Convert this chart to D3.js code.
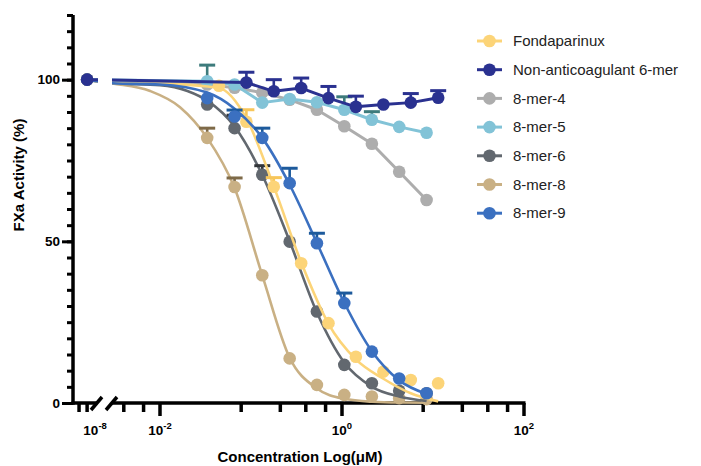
<!DOCTYPE html>
<html>
<head>
<meta charset="utf-8">
<script src="https://cdn.jsdelivr.net/npm/d3@7"></script>
<style>
    body { margin: 0; background: #fff; }
    text { font-family: Arial, "Liberation Sans", Helvetica, sans-serif; }
</style>
</head>
<body>
<div id="chart"></div>
<script>
// dilution series (uM)
const concA = [0.033, 0.066, 0.133, 0.266, 0.53, 1.06, 2.13, 4.25, 8.5];
const concB = [0.0445, 0.089, 0.178, 0.356, 0.71, 1.42, 2.85, 5.7, 11.4];
const controlConc = 1e-8;
const controlValue = 100;

// measured FXa activity (%) and upper error (0 = hidden under the marker)
const fondaY = [98.1, 87.0, 66.9, 43.2, 24.7, 14.3, 9.7, 7.1, 6.1];
const fondaErr = [0, 3.7, 2.8, 0, 0, 0, 0, 0, 0];
const nonAntiY = [99.1, 96.4, 97.4, 94.3, 91.6, 92.3, 92.9, 94.4];
const nonAntiErr = [3.2, 3.6, 3.1, 3.6, 3.3, 0, 2.8, 2.2];
const mer4Y = [98.5, 97.5, 96.0, 93.8, 90.7, 85.6, 80.2, 71.5, 62.8];
const mer5Y = [99.5, 98.5, 92.9, 94.0, 93.0, 90.7, 87.6, 85.4, 83.6];
const mer5Err = [5, 0, 0, 0, 0, 4, 2.5, 0, 0];
const mer6Y = [92.3, 85.0, 70.6, 49.9, 28.3, 11.8, 6.1, 3.8, 3.0];
const mer6Err = [0, 4, 2.8, 0, 0, 0, 0, 0, 0];
const mer8Y = [82.0, 66.8, 39.5, 13.8, 5.6, 2.5, 2.0, 1.5, 1.2];
const mer8Err = [3, 2.8, 0, 0, 0, 0, 0, 0, 0];
const mer9Y = [94.3, 88.6, 82.0, 68.0, 49.4, 30.9, 15.9, 7.6, 3.0];
const mer9Err = [0, 2, 3, 4.6, 3.1, 3.1, 0, 0, 0];

// fitted curves
const fondaFitX = [0.003, 0.012, 0.0445, 0.089, 0.178, 0.356, 0.71, 1.42, 2.85, 5.7, 11.4];
const fondaFitY = [98.9, 98.7, 97.4, 88, 67, 43.5, 24.5, 13.5, 7.5, 3, 0.5];
const mer6FitX = [0.003, 0.01, 0.02, 0.033, 0.066, 0.133, 0.266, 0.53, 1.06, 2.13, 4.25, 8.5];
const mer6FitY = [98.9, 98.3, 96.5, 93.5, 85.5, 70.5, 50, 28, 12.5, 5, 2, 0.6];
const mer8FitX = [0.003, 0.0078, 0.0166, 0.033, 0.066, 0.133, 0.266, 0.53, 1.06, 2.13, 4.25, 8.5];
const mer8FitY = [98.8, 96.5, 91.5, 82, 66.5, 39.5, 14, 4.5, 1.3, 0.4, 0.15, 0.1];
const mer9FitX = [0.003, 0.01, 0.033, 0.066, 0.133, 0.266, 0.53, 1.06, 2.13, 4.25, 8.5];
const mer9FitY = [98.9, 98.5, 96, 91, 82, 67.5, 49.5, 31, 16, 7, 2.8];

const yMajorTicks = [0, 50, 100];
const xMajorTicks = [1e-2, 1e0, 1e2];
const xMajorLabels = ['-2', '0', '2'];
const xMinorTicks = [0.004, 0.0066, 0.078, 0.21, 0.4, 0.66, 7.8, 21, 40, 66];
const breakTicks = [Math.pow(10, -8.2), 1e-8];

var state = {
    width: 701,
    height: 466,
    axisColor: '#000',
    axisWidth: 3.5,
    radius: 6.3
};

// draw order matters: later series sit on top
var series = [
    {name: '8-mer-4', x: concA, y: mer4Y, err: null, color: '#adadad', errColor: '#8a8a8a', fitX: null},
    {name: '8-mer-5', x: concA, y: mer5Y, err: mer5Err, color: '#82c3d7', errColor: '#3d7b7c', fitX: null},
    {name: '8-mer-8', x: concA, y: mer8Y, err: mer8Err, color: '#c9b084', errColor: '#7e6a48', fitX: mer8FitX, fitY: mer8FitY},
    {name: '8-mer-6', x: concA, y: mer6Y, err: mer6Err, color: '#62686f', errColor: '#33363a', fitX: mer6FitX, fitY: mer6FitY},
    {name: 'Fondaparinux', x: concB, y: fondaY, err: fondaErr, color: '#fcd478', errColor: '#f7c65a', fitX: fondaFitX, fitY: fondaFitY},
    {name: '8-mer-9', x: concA, y: mer9Y, err: mer9Err, color: '#3b70c0', errColor: '#1d5a9c', fitX: mer9FitX, fitY: mer9FitY},
    {name: 'Non-anticoagulant 6-mer', x: concB.slice(1), y: nonAntiY, err: nonAntiErr, color: '#2a3190', errColor: '#2a3190', fitX: null}
];
var legendOrder = ['Fondaparinux', 'Non-anticoagulant 6-mer', '8-mer-4', '8-mer-5', '8-mer-6', '8-mer-8', '8-mer-9'];

var y = d3.scaleLinear().domain([0, 120]).range([403, 15]);
var xMain = d3.scaleLog().domain([1e-2, 1e2]).range([160, 524]);
var xBreak = d3.scaleLog().domain([Math.pow(10, -8.35), Math.pow(10, -7.73)]).range([73, 98]);
var mainStart = 112;

function xPos(c){
    return c < 1e-5 ? xBreak(c) : xMain(c);
}

var svg = d3.select('#chart')
    .append('svg')
        .attr('width', state.width)
        .attr('height', state.height)
        .style('background', '#fff');

var defs = svg.append('defs');
defs.append('clipPath').attr('id', 'clipBreak')
    .append('rect').attr('x', 70).attr('y', 0).attr('width', 28).attr('height', 420);
defs.append('clipPath').attr('id', 'clipMain')
    .append('rect').attr('x', mainStart).attr('y', 0).attr('width', 420).attr('height', 420);

drawAxes();
drawSeries();
drawLegend();

function drawAxes(){
    let g = svg.append('g');

    // y axis
    g.append('g')
        .attr('transform', 'translate(73,0)')
        .call(d3.axisLeft(y).tickValues(d3.range(0, 121, 5)).tickSize(6).tickSizeOuter(0).tickFormat(''))
        .call(s => s.select('.domain').remove());
    g.append('g')
        .attr('transform', 'translate(73,0)')
        .call(d3.axisLeft(y).tickValues(yMajorTicks).tickSize(11).tickSizeOuter(0).tickPadding(2))
        .call(s => s.select('.domain').remove());
    g.append('line')
        .attr('x1', 73).attr('x2', 73)
        .attr('y1', y(120)).attr('y2', y(0) + state.axisWidth / 2);

    // x axis, two segments with a break
    g.append('line').attr('x1', 71.5).attr('x2', 97).attr('y1', y(0)).attr('y2', y(0));
    g.append('line').attr('x1', mainStart).attr('x2', xMain(100) + 1.5).attr('y1', y(0)).attr('y2', y(0));
    g.append('line').attr('x1', 91).attr('y1', 410).attr('x2', 102).attr('y2', 397);
    g.append('line').attr('x1', 106).attr('y1', 410).attr('x2', 117).attr('y2', 397);

    g.selectAll('.minorX')
        .data(xMinorTicks.map(xMain).concat(breakTicks.map(xBreak)))
        .enter()
        .append('line')
            .attr('x1', d => d).attr('x2', d => d)
            .attr('y1', y(0)).attr('y2', y(0) + 9);
    g.selectAll('.majorX')
        .data(xMajorTicks)
        .enter()
        .append('line')
            .attr('x1', d => xMain(d)).attr('x2', d => xMain(d))
            .attr('y1', y(0)).attr('y2', y(0) + 13);

    g.selectAll('line')
        .style('stroke', state.axisColor)
        .style('stroke-width', state.axisWidth);
    g.selectAll('.tick line')
        .style('stroke-width', 3);

    g.selectAll('.tick text')
        .style('font-size', '13.5px')
        .style('font-weight', 'bold')
        .style('fill', '#000');

    // x tick labels with superscripts
    let labels = xMajorTicks.map((d, i) => ({x: xMain(d), exp: xMajorLabels[i]}));
    labels.unshift({x: xBreak(1e-8) + 8, exp: '-8'});
    let lt = g.selectAll('.xlab')
        .data(labels)
        .enter()
        .append('text')
            .attr('x', d => d.x)
            .attr('y', 435)
            .attr('text-anchor', 'middle')
            .style('font-size', '13.5px')
            .style('font-weight', 'bold');
    lt.append('tspan').text('10');
    lt.append('tspan').attr('dy', -6).style('font-size', '9.5px').text(d => d.exp);

    g.append('text')
        .attr('x', 300).attr('y', 462)
        .attr('text-anchor', 'middle')
        .style('font-size', '15px')
        .style('font-weight', 'bold')
        .text('Concentration Log(\u03BCM)');

    g.append('text')
        .attr('transform', 'translate(24,175) rotate(-90)')
        .attr('text-anchor', 'middle')
        .style('font-size', '15px')
        .style('font-weight', 'bold')
        .text('FXa Activity (%)');
}

function drawSeries(){
    let line = d3.line().x(d => xPos(d[0])).y(d => y(d[1]));
    let smooth = d3.line().x(d => xPos(d[0])).y(d => y(d[1])).curve(d3.curveMonotoneX);

    series.forEach(s => {
        let g = svg.append('g');
        let pts = s.x.map((c, i) => [c, s.y[i], s.err ? s.err[i] : 0]);
        let path;
        if(s.fitX){
            path = smooth([[controlConc, controlValue]].concat(s.fitX.map((c, i) => [c, s.fitY[i]])));
        }
        else{
            path = line([[controlConc, controlValue]].concat(pts));
        }
        ['clipBreak', 'clipMain'].forEach(clip => {
            g.append('path')
                .attr('d', path)
                .attr('clip-path', 'url(#' + clip + ')')
                .style('fill', 'none')
                .style('stroke', s.color)
                .style('stroke-width', s.fitX ? 2.6 : 3)
                .style('stroke-linejoin', 'round');
        });

        let eb = g.selectAll('.err')
            .data(pts.filter(d => d[2] > 0))
            .enter()
            .append('g')
                .style('stroke', s.errColor)
                .style('stroke-width', 2.6);
        eb.append('line')
            .attr('x1', d => xPos(d[0])).attr('x2', d => xPos(d[0]))
            .attr('y1', d => y(d[1])).attr('y2', d => y(d[1] + d[2]));
        eb.append('line')
            .attr('x1', d => xPos(d[0]) - 8).attr('x2', d => xPos(d[0]) + 8)
            .attr('y1', d => y(d[1] + d[2])).attr('y2', d => y(d[1] + d[2]))
            .style('stroke-width', 3);

        g.selectAll('circle')
            .data([[controlConc, controlValue]].concat(pts))
            .enter()
            .append('circle')
                .attr('cx', d => xPos(d[0]))
                .attr('cy', d => y(d[1]))
                .attr('r', state.radius)
                .attr('fill', s.color);
    });
}

function drawLegend(){
    let g = svg.append('g');
    let rows = g.selectAll('.row')
        .data(legendOrder.map(n => series.find(s => s.name == n)))
        .enter()
        .append('g')
            .attr('transform', (d, i) => 'translate(0,' + (41 + i * 28.7) + ')');
    rows.append('line')
        .attr('x1', 477).attr('x2', 502)
        .style('stroke', d => d.color)
        .style('stroke-width', 3);
    rows.append('circle')
        .attr('cx', 489.5)
        .attr('r', state.radius)
        .attr('fill', d => d.color);
    rows.append('text')
        .attr('x', 513)
        .attr('dy', '0.35em')
        .style('font-size', '15px')
        .style('fill', '#222')
        .text(d => d.name);
}
</script>
</body>
</html>
